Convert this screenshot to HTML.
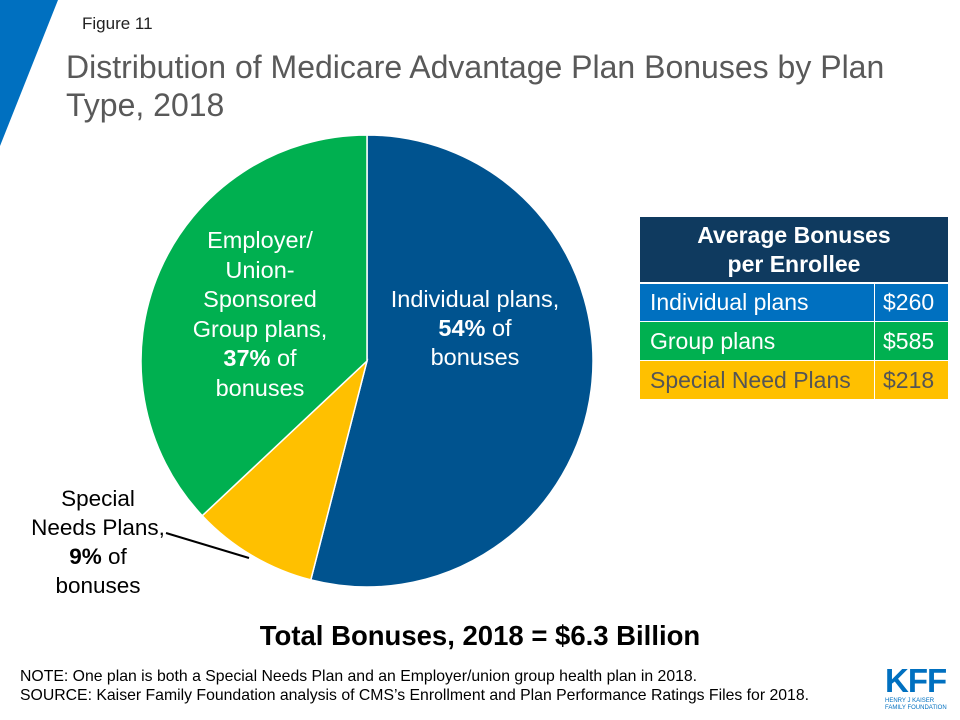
<!DOCTYPE html>
<html><head><meta charset="utf-8"><style>
body{margin:0;width:960px;height:720px;background:#fff;font-family:"Liberation Sans",sans-serif;overflow:hidden;position:relative}
.a{position:absolute}
.c1{width:235px;box-sizing:border-box;padding-left:10px;border-right:1px solid #fff}
</style></head><body>
<svg class="a" style="left:0;top:0" width="960" height="720">
<polygon points="0,0 58,0 0,146" fill="#0070c0"/>
<g id="pie"></g>
<line x1="166" y1="533" x2="249" y2="558" stroke="#000" stroke-width="2"/>
</svg>
<div class="a" style="left:82px;top:14px;font-size:17px;color:#222">Figure 11</div>
<div class="a" style="left:66px;top:48px;font-size:32px;color:#595959;line-height:38px;width:860px">Distribution of Medicare Advantage Plan Bonuses by Plan Type, 2018</div>
<div class="a" style="left:365px;top:285px;width:220px;text-align:center;font-size:23.5px;color:#fff;line-height:29px">Individual plans,<br><b>54%</b> of<br>bonuses</div>
<div class="a" style="left:170px;top:226px;width:180px;text-align:center;font-size:23.5px;color:#fff;line-height:29.5px">Employer/<br>Union-<br>Sponsored<br>Group plans,<br><b>37%</b> of<br>bonuses</div>
<div class="a" style="left:28px;top:484px;width:140px;text-align:center;font-size:22.5px;color:#000;line-height:29px">Special<br>Needs Plans,<br><b>9%</b> of<br>bonuses</div>
<div class="a" style="left:640px;top:217px;width:308px;height:65px;background:#0f3a5f;color:#fff;font-weight:bold;font-size:23px;text-align:center;line-height:29px;padding-top:4px;box-sizing:border-box">Average Bonuses<br>per Enrollee</div>
<div class="a" style="left:640px;top:284px;width:308px">
<div style="display:flex;height:37px;background:#0070c0;color:#fff;font-size:23px;line-height:37px;border-bottom:1px solid #fff"><div class="c1">Individual plans</div><div style="padding-left:8px">$260</div></div>
<div style="display:flex;height:38px;background:#00b050;color:#fff;font-size:23px;line-height:38px;border-bottom:1px solid #fff"><div class="c1">Group plans</div><div style="padding-left:8px">$585</div></div>
<div style="display:flex;height:38px;background:#ffc000;color:#555;font-size:23px;line-height:38px"><div class="c1">Special Need Plans</div><div style="padding-left:8px">$218</div></div>
</div>
<div class="a" style="left:0;top:620px;width:960px;text-align:center;font-size:27.5px;font-weight:bold;color:#000">Total Bonuses, 2018 = $6.3 Billion</div>
<div class="a" style="left:20px;top:667px;font-size:15.8px;line-height:19px;color:#000;white-space:nowrap">NOTE: One plan is both a Special Needs Plan and an Employer/union group health plan in 2018.<br>SOURCE: Kaiser Family Foundation analysis of CMS’s Enrollment and Plan Performance Ratings Files for 2018.</div>
<div class="a" style="left:885px;top:665px;font-size:33px;font-weight:bold;color:#0070c0;letter-spacing:-1px;line-height:32px">KFF</div>
<div class="a" style="left:885px;top:698px;font-size:6px;color:#0070c0;line-height:7px">HENRY J KAISER<br>FAMILY FOUNDATION</div>
<script>
const categories=["Individual plans","Special Needs Plans","Group plans"];
const shares=[54,9,37];
const colors=["#00538f","#ffc000","#00b050"];
const cx=367,cy=361,r=226;
const g=document.getElementById('pie');
const total=shares.reduce((a,b)=>a+b,0);
let acc=0;
function pt(f){const a=f*2*Math.PI;return [cx+r*Math.sin(a),cy-r*Math.cos(a)];}
shares.forEach((v,i)=>{
 const s=acc/total,e=(acc+v)/total;acc+=v;
 const p0=pt(s),p1=pt(e);
 const large=(e-s)>0.5?1:0;
 const p=document.createElementNS('http://www.w3.org/2000/svg','path');
 p.setAttribute('d',`M${cx},${cy} L${p0[0]},${p0[1]} A${r},${r} 0 ${large} 1 ${p1[0]},${p1[1]} Z`);
 p.setAttribute('fill',colors[i]);
 p.setAttribute('stroke','#fff');
 p.setAttribute('stroke-width','1.5');
 
 
 g.appendChild(p);
});
</script>
</body></html>
